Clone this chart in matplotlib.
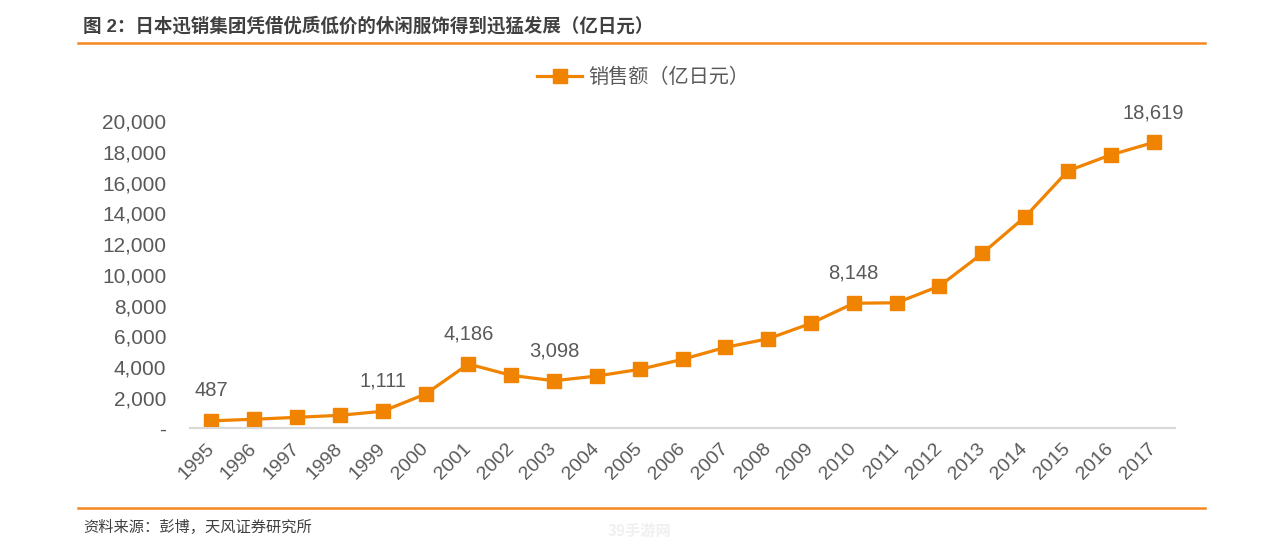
import matplotlib
matplotlib.use("Agg")
import matplotlib.pyplot as plt
from matplotlib.lines import Line2D
from matplotlib.ticker import FixedLocator, FixedFormatter

plt.rcParams['font.family'] = ['Liberation Sans', 'Noto Sans CJK SC', 'DejaVu Sans']

years = [str(y) for y in range(1995, 2018)]
sales = [487, 590, 716, 846, 1111, 2233, 4186, 3450, 3098, 3405, 3841, 4492,
         5273, 5833, 6836, 8148, 8177, 9264, 11393, 13776, 16771, 17813, 18619]
labeled_years = ['1995', '1999', '2001', '2003', '2010', '2017']
ytick_values = [0, 2000, 4000, 6000, 8000, 10000, 12000, 14000, 16000, 18000, 20000]
ytick_labels = ['-', '2,000', '4,000', '6,000', '8,000', '10,000', '12,000',
                '14,000', '16,000', '18,000', '20,000']
series_name = '销售额（亿日元）'
title = '图 2：日本迅销集团凭借优质低价的休闲服饰得到迅猛发展（亿日元）'
source = '资料来源：彭博，天风证券研究所'

W, H = 1274, 548
fig = plt.figure(figsize=(W / 100, H / 100), dpi=100)
ax = fig.add_axes([190 / W, 1 - 428.3 / H, 985 / W, (428.3 - 121.3) / H])

orange = '#F08300'
x = list(range(len(years)))
ax.plot(x, sales, color=orange, lw=2.3, marker='s', markersize=10,
        markerfacecolor=orange, markeredgecolor=orange, label=series_name)

for i, (yr, v) in enumerate(zip(years, sales)):
    if yr in labeled_years:
        ax.annotate(f'{v:,}', (i, v), xytext=(0, 21.5), textcoords='offset points',
                    ha='center', va='center', fontsize=14.5, color='#595959')

ax.set_xlim(-0.5, len(years) - 0.5)
ax.set_ylim(0, 20000)
ax.set_xticks(x)
ax.set_xticklabels(years, rotation=45, ha='right', va='center', rotation_mode='anchor',
                   fontsize=14, color='#595959')
ax.yaxis.set_major_locator(FixedLocator(ytick_values))
ax.yaxis.set_major_formatter(FixedFormatter(ytick_labels))
ax.tick_params(axis='y', length=0, pad=17, labelsize=15, labelcolor='#595959')
ax.tick_params(axis='x', length=0, pad=13)
for s in ['top', 'right', 'left']:
    ax.spines[s].set_visible(False)
ax.spines['bottom'].set_color('#d9d9d9')
ax.spines['bottom'].set_linewidth(1.5)

leg = ax.legend(loc='lower center', bbox_to_anchor=(0.46, 1.05), frameon=False,
                handlelength=2.2, handletextpad=0.3,
                prop={'family': ['Noto Sans CJK SC'], 'size': 14.5})
for t in leg.get_texts():
    t.set_color('#595959')

fig.text(83 / W, 1 - 26 / H, title, fontsize=13.3, fontweight='bold', color='#404040',
         ha='left', va='center', family=['Liberation Sans', 'Noto Sans CJK SC'])
fig.add_artist(Line2D([78 / W, 1205 / W], [1 - 43 / H, 1 - 43 / H],
                      color='#F4861F', lw=1.8, transform=fig.transFigure))
fig.add_artist(Line2D([78 / W, 1205 / W], [1 - 508 / H, 1 - 508 / H],
                      color='#F4861F', lw=1.8, transform=fig.transFigure))
fig.text(83 / W, 1 - 527 / H, source, fontsize=11, color='#404040',
         ha='left', va='center', family=['Noto Sans CJK SC'])
fig.text(640 / W, 1 - 531 / H, '39手游网', fontsize=11, fontweight='bold',
         color='#f0f0f0', ha='center', va='center', family=['Noto Sans CJK SC'])

fig.savefig('out.png', dpi=100)
